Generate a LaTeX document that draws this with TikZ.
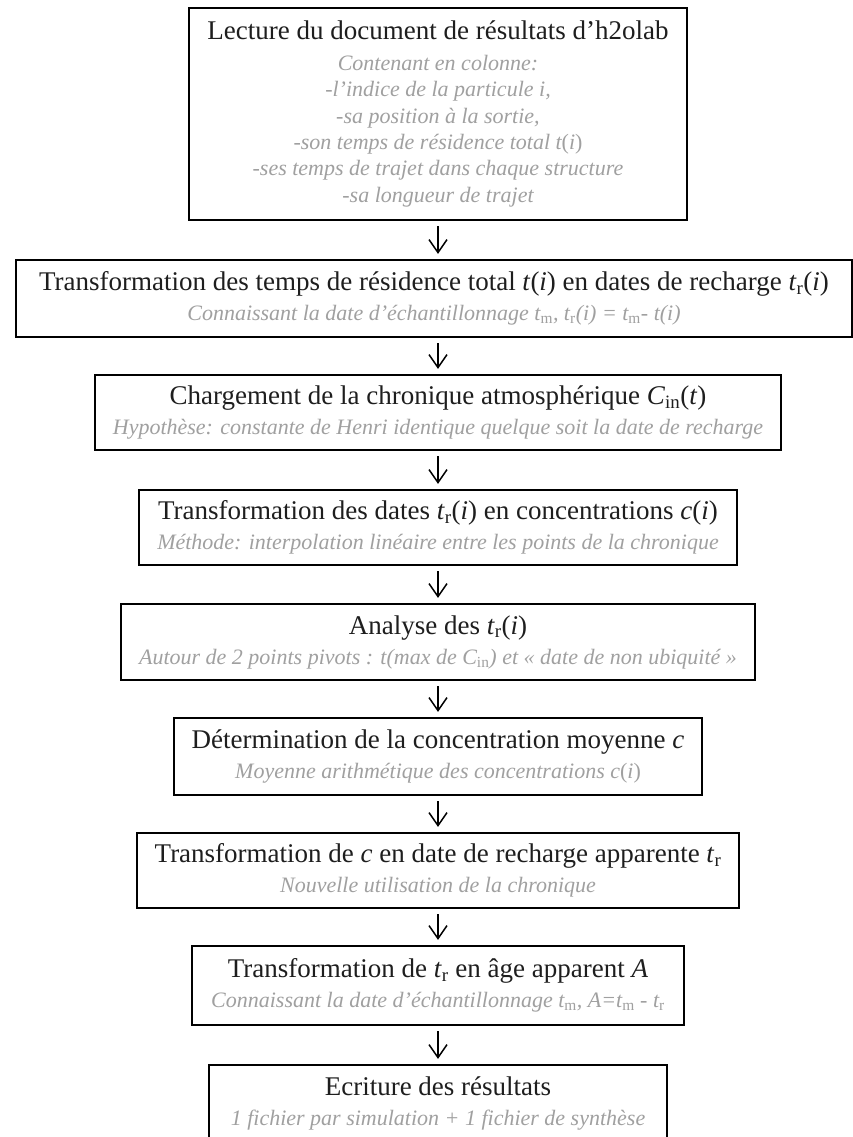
\documentclass[tikz,border=0pt]{standalone}
\usepackage{fontspec}
\setmainfont{Liberation Serif}
\usetikzlibrary{arrows.meta}
\definecolor{titleink}{RGB}{30,30,30}
\definecolor{subgrey}{RGB}{160,160,160}
% title line and grey italic comment line of a step
\newcommand\steptitle[1]{{\color{titleink}\fontsize{27}{27}\selectfont #1}}
\newcommand\stepnote[1]{{\color{subgrey}\itshape\fontsize{22}{27}\selectfont #1}}
\newcommand\sbr[1]{\textsubscript{\upshape #1}}
\tikzset{
  stepbox/.style={draw=black, line width=2.2pt, fill=white, align=center,
    inner xsep=18pt, inner ysep=4pt, minimum height=76pt,
    font=\fontsize{22}{27}\selectfont},
  flow/.style={-{Straight Barb[length=13pt,width=18pt,line width=1.5pt]},
    line width=1.5pt, shorten <=5pt, shorten >=5pt}
}
\begin{document}
\begin{tikzpicture}[x=1pt, y=-1pt]
\useasboundingbox (0,0) rectangle (853,1137);
\clip (0,0) rectangle (853,1137);

\node[stepbox, minimum width=498pt, minimum height=212pt,
      font=\fontsize{22}{26.4}\selectfont] (b1) at (438,114)
  {\steptitle{Lecture du document de résultats d’h2olab}\\[4pt]
   \stepnote{Contenant en colonne:}\\
   \stepnote{-l’indice de la particule i,}\\
   \stepnote{-sa position à la sortie,}\\
   \stepnote{-son temps de résidence total t{\upshape(}i{\upshape)}}\\
   \stepnote{-ses temps de trajet dans chaque structure}\\
   \stepnote{-sa longueur de trajet}};

\node[stepbox, minimum width=836pt, minimum height=77pt] (b2) at (434,298.5)
  {\steptitle{Transformation des temps de résidence total \textit{t}(\textit{i}) en dates de recharge \textit{t}\sbr{r}(\textit{i})}\\[3pt]
   \stepnote{Connaissant la date d’échantillonnage t\sbr{m}, t\sbr{r}(i) = t\sbr{m}- t(i)}};

\node[stepbox, minimum height=75pt] (b3) at (438,412.5)
  {\steptitle{Chargement de la chronique atmosphérique \textit{C}\sbr{in}(\textit{t})}\\[3pt]
   \stepnote{Hypothèse: constante de Henri identique quelque soit la date de recharge}};

\node[stepbox, minimum height=75pt] (b4) at (438,527.5)
  {\steptitle{Transformation des dates \textit{t}\sbr{r}(\textit{i}) en concentrations \textit{c}(\textit{i})}\\[3pt]
   \stepnote{Méthode: interpolation linéaire entre les points de la chronique}};

\node[stepbox, minimum height=76pt] (b5) at (438,642)
  {\steptitle{Analyse des \textit{t}\sbr{r}(\textit{i})}\\[3pt]
   \stepnote{Autour de 2 points pivots : t(max de C\sbr{in}) et « date de non ubiquité »}};

\node[stepbox, minimum height=77pt] (b6) at (438,756.5)
  {\steptitle{Détermination de la concentration moyenne \textit{c}}\\[3pt]
   \stepnote{Moyenne arithmétique des concentrations c{\upshape(}i{\upshape)}}};

\node[stepbox, minimum height=75pt] (b7) at (438,870.5)
  {\steptitle{Transformation de \textit{c} en date de recharge apparente \textit{t}\sbr{r}}\\[3pt]
   \stepnote{Nouvelle utilisation de la chronique}};

\node[stepbox, inner xsep=6pt, minimum width=492pt, minimum height=79pt] (b8) at (438,985.5)
  {\steptitle{Transformation de \textit{t}\sbr{r} en âge apparent \textit{A}}\\[3pt]
   \stepnote{Connaissant la date d’échantillonnage t\sbr{m}, A=t\sbr{m} - t\sbr{r}}};

\node[stepbox, minimum width=458pt, minimum height=77pt] (b9) at (438,1103.5)
  {\steptitle{Ecriture des résultats}\\[3pt]
   \stepnote{1 fichier par simulation + 1 fichier de synthèse}};

\draw[flow] (b1.south -| 438,0) -- (b2.north -| 438,0);
\draw[flow] (b2.south -| 438,0) -- (b3.north);
\draw[flow] (b3) -- (b4);
\draw[flow] (b4) -- (b5);
\draw[flow] (b5) -- (b6);
\draw[flow] (b6) -- (b7);
\draw[flow] (b7) -- (b8);
\draw[flow] (b8) -- (b9);
\end{tikzpicture}
\end{document}
